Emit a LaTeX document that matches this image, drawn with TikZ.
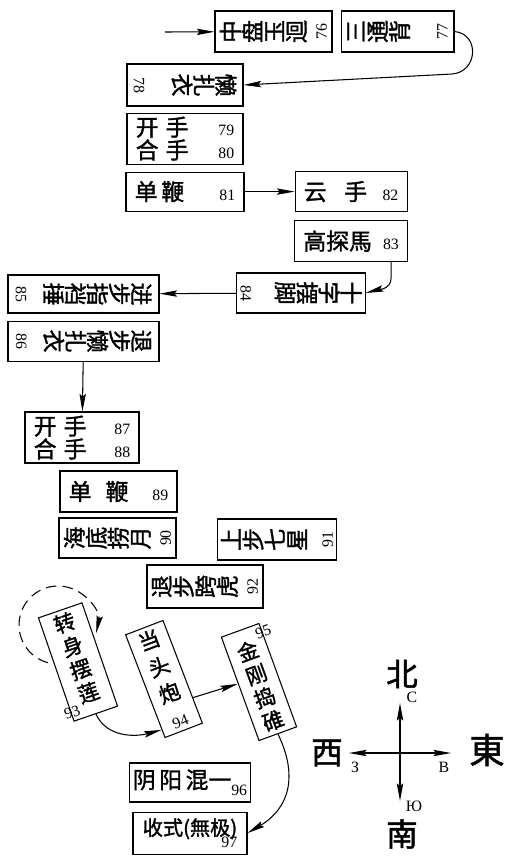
\documentclass[tikz,border=0pt]{standalone}
\usepackage{fontspec}
\usepackage{graphicx}
\setmainfont{Liberation Serif}
\newfontfamily\cjk{Noto Sans CJK SC}[AutoFakeBold=1.5]
\usetikzlibrary{arrows.meta, positioning, calc}

\newcommand{\hz}{\cjk\bfseries\fontsize{13}{13}\selectfont}
\newcommand{\nm}{\rmfamily\mdseries\fontsize{9}{10}\selectfont}
\newcommand{\zi}[1]{\hbox to 13pt{\hss#1\hss}}
\newcommand{\vcol}[3][12.5pt]{\rotatebox{#2}{\vbox{\baselineskip=#1\lineskiplimit=-100pt#3}}}

\begin{document}
\begin{tikzpicture}[
    x=0.02cm, y=0.02cm,
    font=\hz,
    line width=0.6pt,
    >={Stealth[length=10pt, width=3.6pt, inset=1.5pt]},
    box/.style={draw, inner sep=2pt},
    hbox/.style={box, text width=#1, inner xsep=5pt, align=left},
    tilt/.style={box, minimum width=0.8cm, minimum height=2.2cm, font=\cjk\bfseries\fontsize{12}{12}\selectfont},
    arr/.style={->},
    pole/.style={font=\cjk\bfseries\fontsize{18}{18}\selectfont},
    cyr/.style={font=\nm},
]
    \fill[white] (0,0) rectangle (517,-863);
    \useasboundingbox (0,0) rectangle (517,-863);

    \coordinate (in) at (165,-32);
    \node[box, minimum width=2.34cm, minimum height=0.82cm] (n76) at (273.5,-31.5) {\vcol{90}{\zi{中}\zi{盘}\zi{玉}\zi{迴}\zi{\nm 76}}};
    \node[box, minimum width=2.26cm, minimum height=0.82cm, right=0.16cm of n76] (n77) {\vcol{90}{\zi{三}\zi{通}\zi{背}\vskip 10pt\zi{\nm 77}}};
    \node[box, minimum width=2.32cm, minimum height=0.84cm] (n78) at (185,-85) {\vcol{-90}{\zi{懒}\zi{扎}\zi{衣}\vskip 10pt\zi{\nm 78}}};
    \node[hbox=1.97cm, minimum height=1.02cm, below=0.12cm of n78] (n79) {开\hspace{4pt}手\hfill{\nm 79}\\合\hspace{4pt}手\hfill{\nm 80}};
    \node[hbox=2.01cm, minimum height=0.78cm, below=0.14cm of n79] (n81) {单\,鞭\hfill{\nm 81}};
    \node[hbox=1.89cm, minimum height=0.8cm, right=1cm of n81] (n82) {云\hspace{10pt}手\hfill{\nm 82}};
    \node[hbox=1.91cm, minimum height=0.82cm, below=0.16cm of n82] (n83) {高探馬\hfill{\nm 83}};
    \node[box, minimum width=2.44cm, minimum height=0.8cm] (n84) at (301,-293) {\vcol{-90}{\zi{十}\zi{字}\zi{摆}\zi{脚}\vskip 8pt\zi{\nm 84}}};
    \node[box, minimum width=3.02cm, minimum height=0.76cm] (n85) at (83.5,-294) {\vcol{-90}{\zi{进}\zi{步}\zi{指}\zi{裆}\zi{捶}\vskip 4pt\zi{\nm 85}}};
    \node[box, minimum width=3.02cm, minimum height=0.8cm, below=0.14cm of n85] (n86) {\vcol{-90}{\zi{退}\zi{步}\zi{懒}\zi{扎}\zi{衣}\vskip 4pt\zi{\nm 86}}};
    \node[hbox=1.93cm, minimum height=1.02cm] (n87) at (82,-437.5) {开\hspace{4pt}手\hfill{\nm 87}\\合\hspace{4pt}手\hfill{\nm 88}};
    \node[hbox=1.99cm, minimum height=0.82cm] (n89) at (118.5,-491.5) {单\hspace{8pt}鞭\hfill{\nm 89}};
    \node[box, minimum width=2.34cm, minimum height=0.8cm] (n90) at (117.5,-538) {\vcol{90}{\zi{海}\zi{底}\zi{捞}\zi{月}\zi{\nm 90}}};
    \node[box, minimum width=2.28cm, minimum height=0.82cm] (n91) at (277,-539.5) {\vcol{90}{\zi{上}\zi{步}\zi{七}\zi{星}\vskip 3pt\zi{\nm 91}}};
    \node[box, minimum width=2.32cm, minimum height=0.86cm] (n92) at (205,-586.5) {\vcol{90}{\zi{退}\zi{步}\zi{跨}\zi{虎}\zi{\nm 92}}};
    \node[tilt, minimum width=0.92cm, minimum height=2.16cm, rotate=19] (n93) at (78,-662) {\vcol[14pt]{0}{\zi{转}\zi{身}\zi{摆}\zi{\llap{\raisebox{-6pt}{\nm 93}\,}莲}}};
    \node[tilt, rotate=21] (n94) at (164,-679) {\vcol[16pt]{0}{\zi{当}\zi{头}\zi{炮}\zi{\nm 94}}};
    \node[tilt, rotate=20] (n95) at (259,-682) {\vcol[14pt]{0}{\zi{金\rlap{\raisebox{9pt}{\nm\,95}}}\zi{刚}\zi{捣}\zi{碓}}};
    \node[box, minimum width=2.28cm, minimum height=0.78cm] (n96) at (190,-782.5) {阴\hspace{2pt}阳\hspace{2pt}混一\raisebox{-4pt}{\nm 96}};
    \node[box, minimum width=2.28cm, minimum height=0.84cm, below=0.18cm of n96, align=right, font=\cjk\bfseries\fontsize{11.5}{12}\selectfont] (n97) {收式(無极)\\[-5pt]{\nm 97}\hspace{14pt}};

    \draw[arr] (in) -- (n76);
    \draw[arr] (n77.east) .. controls (480,-34) and (478,-72) .. (452,-74) -- (n78.east);
    \draw[arr] (n81) -- (n82);
    \draw[arr] ([xshift=0.8cm]n83.south) -- ++(0,-16) to[out=-90, in=15] (n84.east);
    \draw[arr] (n84) -- (n85);
    \draw[arr] (n86) -- (n87);
    \coordinate (loop) at (58,-625);
    \draw[arr, dash pattern=on 6pt off 3.5pt] ([shift={(255:39)}]loop) arc[start angle=255, end angle=-12, radius=39];
    \draw[arr] (n93.south) to[out=-65, in=195] ($(n94.south west)!0.08!(n94.north west)$);
    \draw[arr] ($(n94.south east)!0.25!(n94.north east)$) -- ($(n95.south west)!0.55!(n95.north west)$);
    \draw[arr] (n95.south) .. controls (298,-775) and (290,-808) .. (n97.east);

    \coordinate (cc) at (400,-753);
    \coordinate (cN) at (400,-703);
    \coordinate (cS) at (400,-801);
    \coordinate (cW) at (349,-753);
    \coordinate (cE) at (451,-753);
    \draw[arr] (cc) -- (cN);
    \draw[arr] (cc) -- (cS);
    \draw[arr] (cc) -- (cW);
    \draw[arr] (cc) -- (cE);
    \node[pole] (north) at (402,-674) {北};
    \node[cyr] (lN) at (412,-697) {С};
    \node[pole] (west) at (327,-753) {西};
    \node[cyr] (lW) at (355,-767) {З};
    \node[pole, font=\cjk\bfseries\fontsize{20}{20}\selectfont] (east) at (487,-750) {東};
    \node[cyr] (lE) at (444,-767) {В};
    \node[cyr] (lS) at (414,-806) {Ю};
    \node[pole] (south) at (402,-834) {南};
\end{tikzpicture}
\end{document}
